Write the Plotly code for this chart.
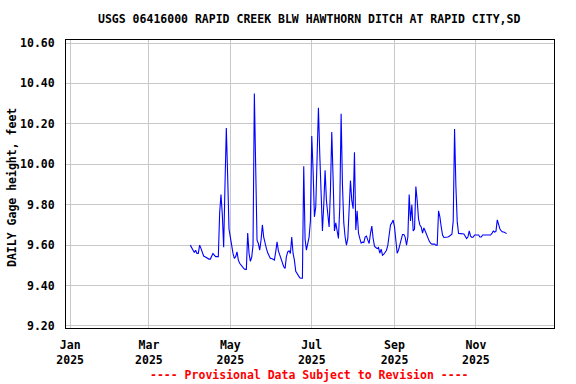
import pandas as pd
import plotly.graph_objects as go

# ---- data (daily mean gage height, feet) ----
start_date = "2025-04-01"
gage_height_ft = [
    9.600, 9.587, 9.575, 9.564, 9.575, 9.559, 9.559, 9.600, 9.584, 9.567,
    9.546, 9.543, 9.539, 9.531, 9.531, 9.531, 9.546, 9.559, 9.551, 9.543,
    9.543, 9.543, 9.76, 9.85, 9.75, 9.59, 9.90, 10.18, 9.94, 9.68,
    9.64, 9.584, 9.559, 9.534, 9.543, 9.567, 9.526, 9.51, 9.50, 9.493,
    9.485, 9.48, 9.48, 9.66, 9.56, 9.52, 9.54, 9.60, 10.35, 9.985,
    9.625, 9.608, 9.575, 9.625, 9.70, 9.64, 9.605, 9.584, 9.562, 9.55,
    9.534, 9.534, 9.53, 9.526, 9.567, 9.616, 9.572, 9.55, 9.53, 9.51,
    9.493, 9.485, 9.543, 9.567, 9.572, 9.559, 9.64, 9.559, 9.526, 9.47,
    9.46, 9.444, 9.438, 9.436, 9.436, 9.99, 9.63, 9.575, 9.616, 9.64,
    9.72, 10.14, 9.97, 9.74, 9.79, 10.05, 10.28, 10.05, 9.84, 9.67,
    9.80, 9.97, 9.82, 9.76, 9.69, 9.87, 10.16, 9.93, 9.67, 9.71,
    9.66, 9.633, 9.79, 10.25, 9.90, 9.71, 9.64, 9.60, 9.633, 9.77,
    9.92, 9.82, 9.78, 10.06, 9.675, 9.77, 9.66, 9.633, 9.61, 9.615,
    9.613, 9.64, 9.645, 9.625, 9.608, 9.658, 9.694, 9.633, 9.595, 9.588,
    9.583, 9.588, 9.56, 9.58, 9.55, 9.555, 9.567, 9.575, 9.60, 9.65,
    9.70, 9.71, 9.724, 9.69, 9.617, 9.56, 9.575, 9.60, 9.633, 9.653,
    9.653, 9.64, 9.60, 9.64, 9.85, 9.72, 9.80, 9.67, 9.68, 9.89,
    9.82, 9.73, 9.70, 9.69, 9.66, 9.685, 9.67, 9.65, 9.635, 9.62,
    9.61, 9.605, 9.605, 9.605, 9.60, 9.60, 9.77, 9.74, 9.69, 9.65,
    9.638, 9.638, 9.638, 9.64, 9.644, 9.65, 9.654, 9.72, 10.175, 9.89,
    9.715, 9.658, 9.658, 9.658, 9.658, 9.655, 9.644, 9.633, 9.64, 9.67,
    9.644, 9.638, 9.64, 9.65, 9.65, 9.65, 9.65, 9.64, 9.64, 9.65,
    9.65, 9.65, 9.65, 9.65, 9.65, 9.65, 9.658, 9.67, 9.665, 9.668,
    9.725, 9.70, 9.68, 9.67, 9.665, 9.665, 9.66, 9.657,
]
dates = pd.date_range(start_date, periods=len(gage_height_ft), freq="D")

x_tick_dates = ["2025-01-01", "2025-03-01", "2025-05-01", "2025-07-01", "2025-09-01", "2025-11-01"]
x_tick_labels = ["Jan<br>2025", "Mar<br>2025", "May<br>2025", "Jul<br>2025", "Sep<br>2025", "Nov<br>2025"]
y_tick_vals = [9.20, 9.40, 9.60, 9.80, 10.00, 10.20, 10.40, 10.60]
y_tick_labels = ["9.20", "9.40", "9.60", "9.80", "10.00", "10.20", "10.40", "10.60"]

title_text = "USGS 06416000 RAPID CREEK BLW HAWTHORN DITCH AT RAPID CITY,SD"
y_title_text = "DAILY Gage height, feet"
footer_text = "---- Provisional Data Subject to Revision ----"

FONT = "DejaVu Sans Mono"
FS = 11.5

fig = go.Figure()
fig.add_trace(go.Scatter(
    x=dates, y=gage_height_ft, mode="lines",
    line=dict(color="#0000ff", width=1.1), hoverinfo="skip", showlegend=False,
))

fig.update_layout(
    width=576, height=384,
    margin=dict(l=66, r=22, t=40, b=56),
    paper_bgcolor="white", plot_bgcolor="white",
    font=dict(family=FONT, size=FS, color="black"),
    showlegend=False,
    xaxis=dict(
        range=["2024-12-28 21:00", "2025-12-29 12:00"],
        tickmode="array", tickvals=x_tick_dates,
        ticktext=["<b>" + t.replace("<br>", "</b><br><b>") + "</b>" for t in x_tick_labels],
        showgrid=True, gridcolor="#c8c8c8", gridwidth=1,
        showline=True, mirror=True, linecolor="black", linewidth=1,
        ticks="", zeroline=False, automargin=False,
        ticklabelstandoff=6,
        tickfont=dict(family=FONT, size=FS, color="black"),
    ),
    yaxis=dict(
        range=[9.19, 10.615],
        tickmode="array", tickvals=y_tick_vals,
        ticktext=["<b>" + t + "</b>" for t in y_tick_labels],
        showgrid=True, gridcolor="#c8c8c8", gridwidth=1,
        showline=True, mirror=True, linecolor="black", linewidth=1,
        ticks="", zeroline=False, automargin=False,
        ticklabelstandoff=8,
        tickfont=dict(family=FONT, size=FS, color="black"),
    ),
    annotations=[
        dict(text="<b>" + title_text + "</b>", xref="paper", yref="paper",
             x=(309 - 66) / 488, y=(328 - 19) / 288, xanchor="center", yanchor="middle",
             showarrow=False, font=dict(family=FONT, size=FS, color="black")),
        dict(text="<b>" + y_title_text + "</b>", xref="paper", yref="paper",
             x=(12 - 66) / 488, y=(328 - 188) / 288, xanchor="center", yanchor="middle",
             textangle=-90, showarrow=False, font=dict(family=FONT, size=FS, color="black")),
        dict(text="<b>" + footer_text + "</b>", xref="paper", yref="paper",
             x=(309 - 66) / 488, y=(328 - 375) / 288, xanchor="center", yanchor="middle",
             showarrow=False, font=dict(family=FONT, size=FS, color="#ff0000")),
    ],
)

fig.write_html(
    "out.html",
    config={"displayModeBar": False, "staticPlot": True},
    post_script="document.body.style.margin='0';document.body.style.overflow='hidden';",
)
